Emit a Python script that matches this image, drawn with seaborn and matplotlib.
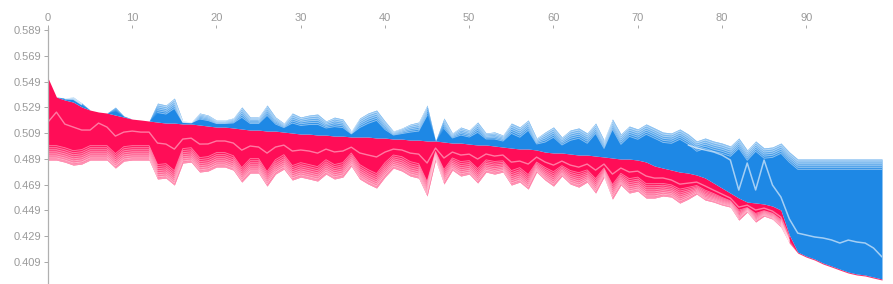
import numpy as np
import pandas as pd
import matplotlib
matplotlib.use("Agg")
import matplotlib.pyplot as plt
import seaborn as sns

# ==============================================
# Data (100 samples)
# ==============================================
base_value = 0.4881

# model output per sample (border between red and blue)
output_value = [
    0.5518, 0.5370, 0.5347, 0.5331, 0.5293, 0.5269, 0.5254, 0.5246, 0.5230, 0.5215,
    0.5199, 0.5192, 0.5184, 0.5176, 0.5168, 0.5168, 0.5161, 0.5161, 0.5153, 0.5145,
    0.5137, 0.5137, 0.5130, 0.5122, 0.5114, 0.5114, 0.5106, 0.5106, 0.5098, 0.5091,
    0.5083, 0.5083, 0.5075, 0.5075, 0.5067, 0.5067, 0.5060, 0.5060, 0.5060, 0.5052,
    0.5052, 0.5044, 0.5044, 0.5036, 0.5036, 0.5029, 0.5029, 0.5021, 0.5013, 0.5013,
    0.5005, 0.4998, 0.4998, 0.4990, 0.4982, 0.4974, 0.4967, 0.4967, 0.4959, 0.4943,
    0.4936, 0.4936, 0.4928, 0.4920, 0.4920, 0.4912, 0.4905, 0.4897, 0.4889, 0.4889,
    0.4881, 0.4866, 0.4835, 0.4819, 0.4804, 0.4788, 0.4780, 0.4765, 0.4742, 0.4703,
    0.4664, 0.4625, 0.4586, 0.4555, 0.4548, 0.4540, 0.4524, 0.4493, 0.4300, 0.4167,
    0.4136, 0.4113, 0.4082, 0.4059, 0.4035, 0.4012, 0.3997, 0.3989, 0.3973, 0.3958,
]

# sum of the negative effects (blue stack above the output)
neg_effect = [
    0.0, 0.0, 0.0016, 0.0039, 0.0031, 0.0, 0.0, 0.0, 0.0062, 0.0008,
    0.0, 0.0, 0.0, 0.0147, 0.0140, 0.0194, 0.0023, 0.0016, 0.0093, 0.0085,
    0.0054, 0.0054, 0.0078, 0.0171, 0.0101, 0.0101, 0.0202, 0.0109, 0.0070, 0.0155,
    0.0132, 0.0147, 0.0163, 0.0109, 0.0147, 0.0132, 0.0047, 0.0147, 0.0186, 0.0217,
    0.0132, 0.0062, 0.0085, 0.0124, 0.0140, 0.0279, 0.0, 0.0186, 0.0078, 0.0124,
    0.0109, 0.0178, 0.0093, 0.0109, 0.0093, 0.0194, 0.0171, 0.0225, 0.0093, 0.0155,
    0.0202, 0.0124, 0.0186, 0.0210, 0.0171, 0.0256, 0.0132, 0.0303, 0.0194, 0.0256,
    0.0241, 0.0295, 0.0295, 0.0279, 0.0287, 0.0334, 0.0303, 0.0264, 0.0310, 0.0326,
    0.0349, 0.0365, 0.0466, 0.0404, 0.0481, 0.0435, 0.0458, 0.0520, 0.0644, 0.0722,
    0.0753, 0.0776, 0.0807, 0.0830, 0.0854, 0.0877, 0.0892, 0.0900, 0.0916, 0.0931,
]

# smaller positive features at the bottom of the red stack
red_minor = [
    0.0295, 0.0372, 0.0295, 0.0295, 0.0264, 0.0233, 0.0287, 0.0256, 0.0248, 0.0225,
    0.0225, 0.0217, 0.0217, 0.0279, 0.0264, 0.0279, 0.0186, 0.0186, 0.0217, 0.0210,
    0.0202, 0.0202, 0.0210, 0.0248, 0.0210, 0.0202, 0.0256, 0.0210, 0.0186, 0.0225,
    0.0210, 0.0217, 0.0217, 0.0194, 0.0210, 0.0202, 0.0147, 0.0202, 0.0225, 0.0241,
    0.0194, 0.0147, 0.0163, 0.0178, 0.0186, 0.0256, 0.0093, 0.0202, 0.0140, 0.0163,
    0.0155, 0.0186, 0.0140, 0.0140, 0.0132, 0.0178, 0.0163, 0.0194, 0.0116, 0.0140,
    0.0163, 0.0116, 0.0147, 0.0155, 0.0140, 0.0178, 0.0101, 0.0194, 0.0132, 0.0163,
    0.0155, 0.0171, 0.0155, 0.0140, 0.0132, 0.0147, 0.0124, 0.0093, 0.0109, 0.0093,
    0.0085, 0.0070, 0.0101, 0.0054, 0.0093, 0.0062, 0.0062, 0.0078, 0.0047, 0.0,
    0.0, 0.0, 0.0, 0.0, 0.0, 0.0, 0.0, 0.0, 0.0, 0.0,
]

# largest blue feature, sitting right on the output line (right part only)
blue_major = [0.0] * 76 + [
    0.0217, 0.0210, 0.0217, 0.0241, 0.0256, 0.0256, 0.0062, 0.0303, 0.0101, 0.0341,
    0.0163, 0.0101, 0.0124, 0.0147, 0.0163, 0.0171, 0.0194, 0.0202, 0.0202, 0.0248,
    0.0248, 0.0248, 0.0225, 0.0171,
]

x_ticks = [0, 10, 20, 30, 40, 50, 60, 70, 80, 90]
y_ticks = [0.589, 0.569, 0.549, 0.529, 0.509, 0.489, 0.469, 0.449, 0.429, 0.409]

# ==============================================
# Build the stacks
# ==============================================
df = pd.DataFrame({
    "sample": np.arange(len(output_value)),
    "out": output_value,
    "neg": neg_effect,
    "red_minor": red_minor,
    "blue_major": blue_major,
})
df["red_bottom"] = base_value - df["neg"]
df["blue_top"] = df["out"] + df["neg"]

RED = "#ff0d57"
BLUE = "#1e88e5"
GREY = "#9a9a9a"

sns.set_theme(style="white")
plt.rcParams["font.family"] = ["Liberation Sans", "DejaVu Sans"]

fig = plt.figure(figsize=(8.93, 2.84), dpi=100)
ax = fig.add_axes([48 / 893, 0.0, 834 / 893, 256 / 284])

x = df["sample"].values
out = df["out"].values
red_bottom = df["red_bottom"].values
blue_top = df["blue_top"].values

ax.fill_between(x, red_bottom, out, color=RED, lw=0)
ax.fill_between(x, out, blue_top, color=BLUE, lw=0)

# faded outer edge: many small features drawn as thin, lighter layers
n_red = 7
red_depth = np.minimum(n_red * 0.0016, 0.45 * (out - red_bottom))
for k in range(n_red):
    lo = red_bottom + k * red_depth / n_red
    hi = red_bottom + (k + 1) * red_depth / n_red
    ax.fill_between(x, lo, hi, color="white", alpha=0.55 * (1 - k / n_red), lw=0)
    edge = np.where(red_depth > 0.0008, hi, np.nan)
    ax.plot(x, edge, color="white", lw=0.6, alpha=0.45)

n_blue = 5
blue_depth = np.minimum(n_blue * 0.0016, 0.5 * (blue_top - out))
for k in range(n_blue):
    hi = blue_top - k * blue_depth / n_blue
    lo = blue_top - (k + 1) * blue_depth / n_blue
    ax.fill_between(x, lo, hi, color="white", alpha=0.5 * (1 - k / n_blue), lw=0)
    edge = np.where(blue_depth > 0.0008, lo, np.nan)
    ax.plot(x, edge, color="white", lw=0.6, alpha=0.45)

# white borders between the larger features
red_line = df[df["red_minor"] > 0]
sns.lineplot(x=red_line["sample"], y=red_line["red_bottom"] + red_line["red_minor"],
             ax=ax, color="white", lw=1.0, alpha=0.45, estimator=None)
blue_line = df[df["blue_major"] > 0]
sns.lineplot(x=blue_line["sample"], y=blue_line["out"] + blue_line["blue_major"],
             ax=ax, color="white", lw=1.1, alpha=0.6, estimator=None)

# ==============================================
# Axes styling
# ==============================================
ax.set_xlim(0, 99)
ax.set_ylim(0.3919, 0.5906)
ax.xaxis.tick_top()
ax.set_xticks(x_ticks)
ax.set_yticks(y_ticks)
ax.set_yticklabels([f"{v:.3f}" for v in y_ticks])
ax.set_xlabel("")
ax.set_ylabel("")
ax.tick_params(axis="x", top=True, bottom=False, length=2, width=0.6, pad=1.5,
               colors=GREY, labelsize=8)
ax.tick_params(axis="y", left=True, length=3, width=0.6, pad=2,
               colors=GREY, labelsize=8)
for side in ["top", "right", "bottom"]:
    ax.spines[side].set_visible(False)
ax.spines["left"].set_color("#b0b0b0")
ax.spines["left"].set_linewidth(0.9)

fig.savefig("out.png", dpi=100)
